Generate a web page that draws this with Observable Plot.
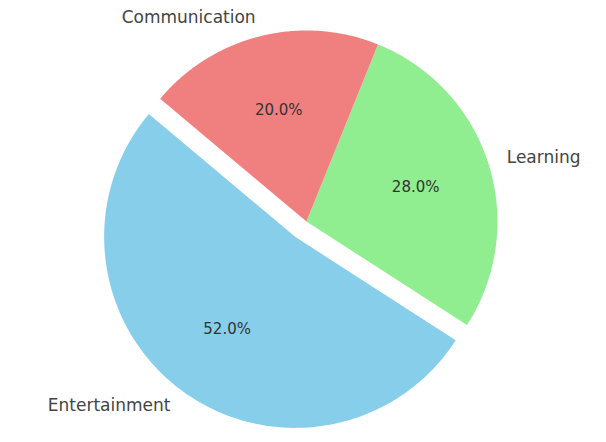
<!DOCTYPE html>
<html>
<head>
<meta charset="utf-8">
<script src="https://cdn.jsdelivr.net/npm/d3@7"></script>
<script src="https://cdn.jsdelivr.net/npm/@observablehq/plot@0.6"></script>
<style>
  html, body { margin: 0; padding: 0; background: #fff; }
  #chart svg { display: block; }
</style>
</head>
<body>
<div id="chart"></div>
<script>
// Data
const categories = ["Entertainment", "Learning", "Communication"];
const shares = [52, 28, 20];
const colors = ["#87CEEB", "#90EE90", "#F08080"];
const explode = [0.1, 0, 0];
const startAngle = 140; // degrees, counterclockwise

// Build slice geometry (unit radius) from data
const total = d3.sum(shares);
const slicePts = [];
const labels = [];
let cum = 0;
categories.forEach((cat, i) => {
  const a1 = startAngle + 360 * cum / total;
  const a2 = a1 + 360 * shares[i] / total;
  cum += shares[i];
  const mid = (a1 + a2) / 2 * Math.PI / 180;
  const ox = explode[i] * Math.cos(mid), oy = explode[i] * Math.sin(mid);
  slicePts.push({cat, x: ox, y: oy});
  const n = 120;
  for (let k = 0; k <= n; k++) {
    const a = (a1 + (a2 - a1) * k / n) * Math.PI / 180;
    slicePts.push({cat, x: ox + Math.cos(a), y: oy + Math.sin(a)});
  }
  labels.push({
    cat,
    lx: ox + 1.1 * Math.cos(mid), ly: oy + 1.1 * Math.sin(mid),
    px: ox + 0.6 * Math.cos(mid), py: oy + 0.6 * Math.sin(mid),
    pct: (100 * shares[i] / total).toFixed(1) + "%",
    side: Math.cos(mid) < 0 ? "end" : "start"
  });
});

const font = "DejaVu Sans, sans-serif";
const chart = Plot.plot({
  width: 606,
  height: 442,
  margin: 0,
  x: {domain: [-1.602, 1.571], axis: null},
  y: {domain: [-1.157, 1.157], axis: null},
  color: {domain: categories, range: colors},
  style: {background: "#fff", fontFamily: font},
  marks: [
    Plot.line(slicePts, {x: "x", y: "y", z: "cat", fill: "cat", stroke: "none", curve: "linear-closed"}),
    Plot.text(labels.filter(d => d.side === "end"), {x: "lx", y: "ly", text: "cat", textAnchor: "end", fontSize: 17, fill: "#444"}),
    Plot.text(labels.filter(d => d.side === "start"), {x: "lx", y: "ly", text: "cat", textAnchor: "start", fontSize: 17, fill: "#444"}),
    Plot.text(labels, {x: "px", y: "py", text: "pct", fontSize: 15, fill: "#333"})
  ]
});
document.getElementById("chart").appendChild(chart);
</script>
</body>
</html>
